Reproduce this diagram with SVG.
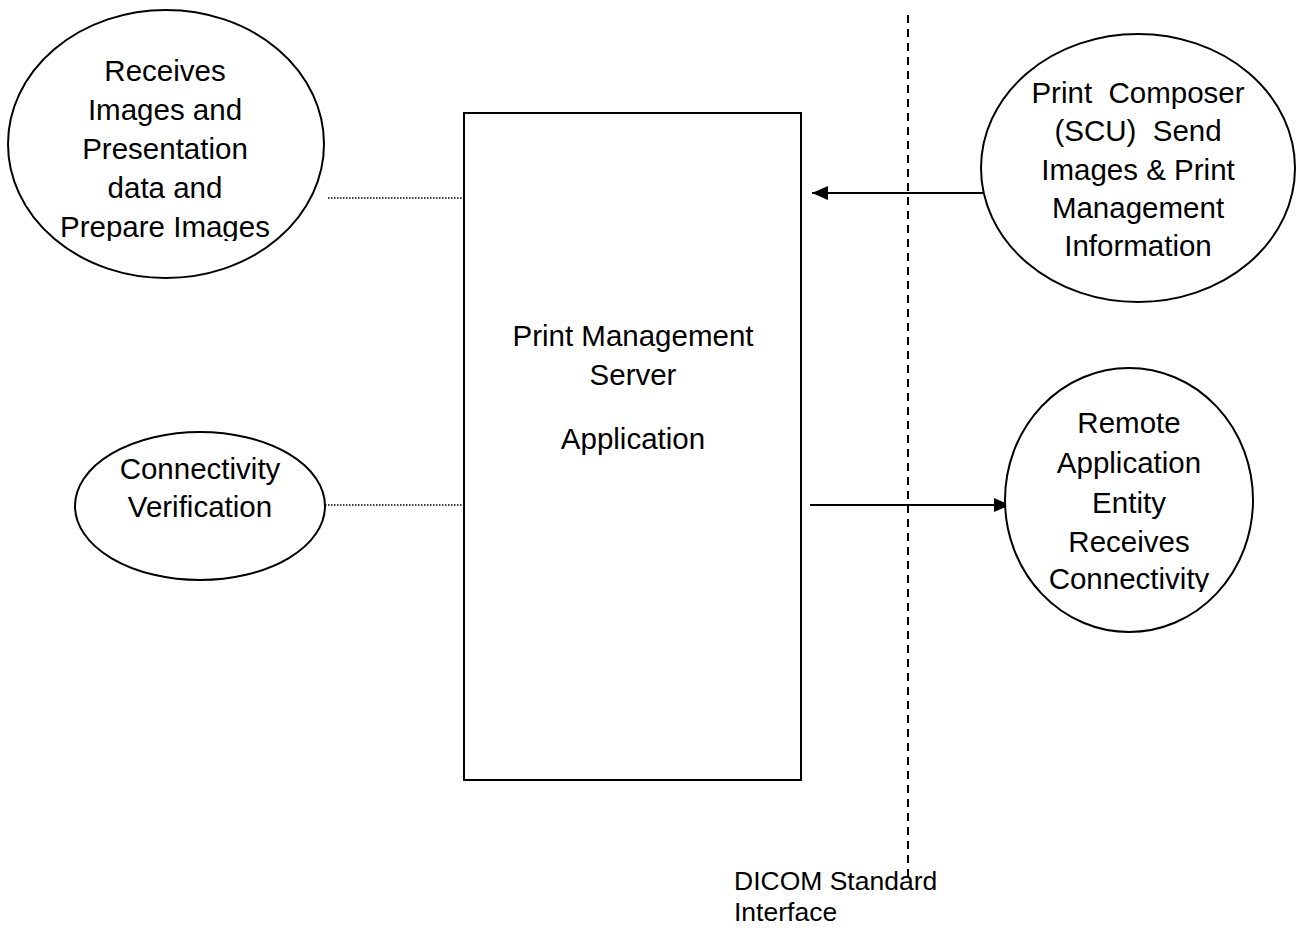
<svg xmlns="http://www.w3.org/2000/svg" width="1297" height="928" viewBox="0 0 1297 928">
<style>
.shape{fill:#fff;stroke:#000;stroke-width:2}
.t{font-family:"Liberation Sans",Arial,sans-serif;font-size:29.5px;fill:#000;text-anchor:middle}
.tl{font-family:"Liberation Sans",Arial,sans-serif;font-size:26.5px;fill:#000}
.dot{stroke:#000;stroke-width:1.5;stroke-dasharray:1.5 1.5;fill:none}
.dash{stroke:#000;stroke-width:2;stroke-dasharray:8 6;fill:none}
.arr{stroke:#000;stroke-width:2;fill:none}
</style>
<defs>
<marker id="ah" markerWidth="16" markerHeight="14" refX="16" refY="7" orient="auto" markerUnits="userSpaceOnUse">
<path d="M0,0 L16,7 L0,14 Z" fill="#000"/>
</marker>
<clipPath id="c1"><rect x="0" y="0" width="400" height="241"/></clipPath>
<clipPath id="c2"><rect x="990" y="350" width="307" height="242"/></clipPath>
</defs>
<rect width="1297" height="928" fill="#fff"/>
<g id="connectors">
<line class="dash" x1="908" y1="15" x2="908" y2="880"/>
<line class="dot" x1="328" y1="198" x2="463" y2="198"/>
<line class="dot" x1="307" y1="505" x2="463" y2="505"/>
<line class="arr" x1="986" y1="193" x2="812" y2="193" marker-end="url(#ah)"/>
<line class="arr" x1="810" y1="505" x2="1010" y2="505" marker-end="url(#ah)"/>
</g>
<g id="node-receives">
<ellipse class="shape" cx="166" cy="144" rx="158" ry="134"/>
<g clip-path="url(#c1)">
<text class="t" x="165" y="81">Receives</text>
<text class="t" x="165" y="120">Images and</text>
<text class="t" x="165" y="159">Presentation</text>
<text class="t" x="165" y="198">data and</text>
<text class="t" x="165" y="237">Prepare Images</text>
</g>
</g>
<g id="node-connectivity">
<ellipse class="shape" cx="200" cy="506" rx="125" ry="74"/>
<text class="t" x="200" y="479">Connectivity</text>
<text class="t" x="200" y="517">Verification</text>
</g>
<g id="node-server">
<rect class="shape" x="464" y="113" width="337" height="667"/>
<text class="t" x="633" y="346">Print Management</text>
<text class="t" x="633" y="385">Server</text>
<text class="t" x="633" y="449">Application</text>
</g>
<g id="node-composer">
<ellipse class="shape" cx="1138" cy="168" rx="157" ry="134"/>
<text class="t" x="1138" y="103" xml:space="preserve">Print  Composer</text>
<text class="t" x="1138" y="141" xml:space="preserve">(SCU)  Send</text>
<text class="t" x="1138" y="180">Images &amp; Print</text>
<text class="t" x="1138" y="218">Management</text>
<text class="t" x="1138" y="256">Information</text>
</g>
<g id="node-remote">
<ellipse class="shape" cx="1129" cy="500" rx="124" ry="132"/>
<g clip-path="url(#c2)">
<text class="t" x="1129" y="433">Remote</text>
<text class="t" x="1129" y="473">Application</text>
<text class="t" x="1129" y="513">Entity</text>
<text class="t" x="1129" y="552">Receives</text>
<text class="t" x="1129" y="589">Connectivity</text>
</g>
</g>
<g id="label-dicom">
<text class="tl" x="734" y="890">DICOM Standard</text>
<text class="tl" x="734" y="921">Interface</text>
</g>
</svg>
